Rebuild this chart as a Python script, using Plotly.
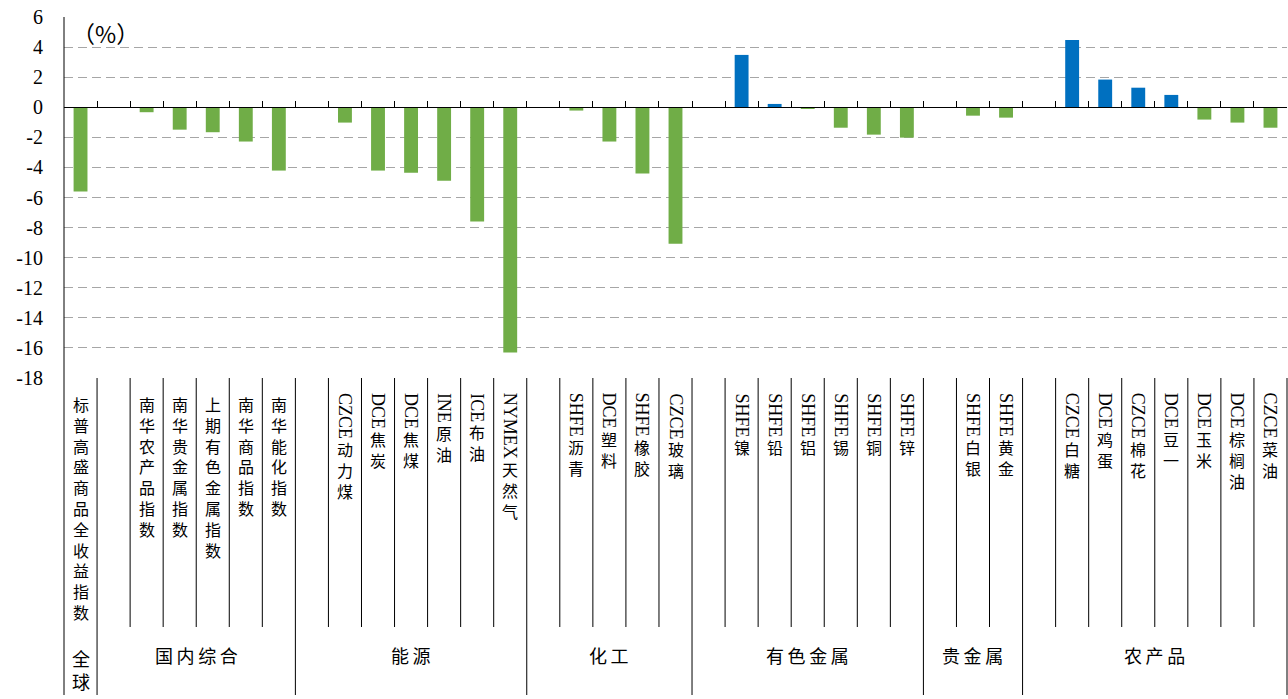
import plotly.graph_objects as go

# ---------------- data ----------------
labels = ["标普高盛商品全收益指数", "", "南华农产品指数", "南华贵金属指数", "上期有色金属指数", "南华商品指数", "南华能化指数",
          "", "CZCE动力煤", "DCE焦炭", "DCE焦煤", "INE原油", "ICE布油", "NYMEX天然气",
          "", "SHFE沥青", "DCE塑料", "SHFE橡胶", "CZCE玻璃",
          "", "SHFE镍", "SHFE铅", "SHFE铝", "SHFE锡", "SHFE铜", "SHFE锌",
          "", "SHFE白银", "SHFE黄金",
          "", "CZCE白糖", "DCE鸡蛋", "CZCE棉花", "DCE豆一", "DCE玉米", "DCE棕榈油", "CZCE菜油"]
values = [-5.6, None, -0.33, -1.49, -1.66, -2.28, -4.21,
          None, -1.02, -4.21, -4.35, -4.88, -7.6, -16.3,
          None, -0.22, -2.28, -4.41, -9.07,
          None, 3.48, 0.22, -0.09, -1.36, -1.82, -2.02,
          None, -0.56, -0.69,
          None, 4.47, 1.84, 1.30, 0.82, -0.82, -1.02, -1.36]
group_names = ["全球", "国内综合", "能源", "化工", "有色金属", "贵金属", "农产品"]
group_start = [0, 1, 7, 14, 19, 26, 29]
group_end = [0, 6, 13, 18, 25, 28, 36]
y_ticks = list(range(-18, 7, 2))
unit_label = "（%）"

# ---------------- styling ----------------
GREEN = "#70AD47"
BLUE = "#0070C0"
W, H = 1288, 699
M_L, M_R, M_T, M_B = 64, 1, 17, 321
PLOT_H = H - M_T - M_B
SERIF = "Liberation Serif, Times New Roman, serif"
CJK = "Noto Sans CJK SC"


def py(ypx):
    """pixel y (from top of figure) -> paper coordinate"""
    return (H - M_B - ypx) / PLOT_H


# Times/Liberation Serif advance widths (per 1000 em) for latin prefixes
TW = {"C": 667, "D": 722, "E": 611, "F": 556, "H": 722, "I": 333, "M": 889,
      "N": 722, "S": 556, "X": 722, "Y": 722, "Z": 611}

n = len(labels)
xs = list(range(n))
colors = [BLUE if (v is not None and v > 0) else GREEN for v in values]

fig = go.Figure()
fig.add_trace(go.Bar(x=xs, y=values, marker=dict(color=colors, line=dict(width=0)),
                     hoverinfo="skip"))

annotations = []
LAT_FS = 18
CJK_FS = 16
TOP = 393
for i, lab in enumerate(labels):
    if not lab:
        continue
    k = 0
    while k < len(lab) and lab[k].isascii():
        k += 1
    latin, cjk = lab[:k], lab[k:]
    top = TOP
    if latin:
        annotations.append(dict(text=latin, x=i, xref="x", y=py(top - 1), yref="paper",
                                xanchor="center", yanchor="top", textangle=90, showarrow=False,
                                borderpad=0,
                                font=dict(family=SERIF, size=LAT_FS, color="black")))
        top += sum(TW.get(c, 600) for c in latin) * LAT_FS / 1000 - 3
    else:
        top -= 2
    if cjk:
        annotations.append(dict(text="<br>".join(cjk), x=i, xref="x", y=py(top), yref="paper",
                                xanchor="center", yanchor="top", showarrow=False, borderpad=0,
                                font=dict(family=CJK, size=CJK_FS, color="black")))

# group labels
for name, s, e in zip(group_names, group_start, group_end):
    if s == e:
        annotations.append(dict(text="<br>".join(name), x=s, xref="x", y=py(669), yref="paper",
                                xanchor="center", yanchor="middle", showarrow=False,
                                font=dict(family=CJK, size=18, color="black")))
    else:
        annotations.append(dict(text="\u2009".join(name), x=(s + e) / 2, xref="x", y=py(655),
                                yref="paper", xanchor="center", yanchor="middle", showarrow=False,
                                font=dict(family=CJK, size=18, color="black")))

annotations.append(dict(text=unit_label, x=(70 - M_L) / (W - M_L - M_R), xref="paper",
                        y=py(33), yref="paper", xanchor="left", yanchor="middle", showarrow=False,
                        font=dict(family=CJK, size=23, color="black")))

# separator lines below the plot
shapes = []
long_b = set([group_start[0] - 0.5] + [e + 0.5 for e in group_end])
for i in range(n - 1):
    b = i + 0.5
    bottom = 695 if b in long_b else 627
    shapes.append(dict(type="line", xref="x", yref="paper", x0=b, x1=b, y0=0, y1=py(bottom),
                       line=dict(color="black", width=1)))
shapes.append(dict(type="line", xref="paper", yref="paper", x0=0, x1=0, y0=1, y1=py(695),
                   line=dict(color="black", width=1)))
shapes.append(dict(type="line", xref="paper", yref="paper", x0=1, x1=1, y0=0, y1=py(695),
                   line=dict(color="black", width=1)))

zero_pos = (0 - y_ticks[0]) / (y_ticks[-1] - y_ticks[0])

fig.update_layout(
    width=W, height=H,
    margin=dict(l=M_L, r=M_R, t=M_T, b=M_B, pad=0),
    paper_bgcolor="white", plot_bgcolor="white",
    showlegend=False,
    bargap=0.58,
    annotations=annotations,
    shapes=shapes,
    xaxis=dict(range=[-0.5, n - 0.5], anchor="free", position=zero_pos,
               showline=True, linecolor="black", linewidth=1.2,
               ticks="inside", ticklen=6, tickwidth=1, tickcolor="black",
               tickvals=[i + 0.5 for i in range(n)], showticklabels=False,
               showgrid=False, zeroline=False, fixedrange=True),
    yaxis=dict(range=[y_ticks[0], y_ticks[-1]], tickvals=y_ticks,
               ticktext=[str(t) for t in y_ticks],
               showgrid=True, gridcolor="#A6A6A6", gridwidth=1, griddash="9px,5px",
               zeroline=False, showline=False, ticks="", ticklabelstandoff=20,
               tickfont=dict(family=SERIF, size=20, color="black"), fixedrange=True),
)

fig.write_html("out.html", config={"displayModeBar": False},
               post_script="document.body.style.margin='0px';")
